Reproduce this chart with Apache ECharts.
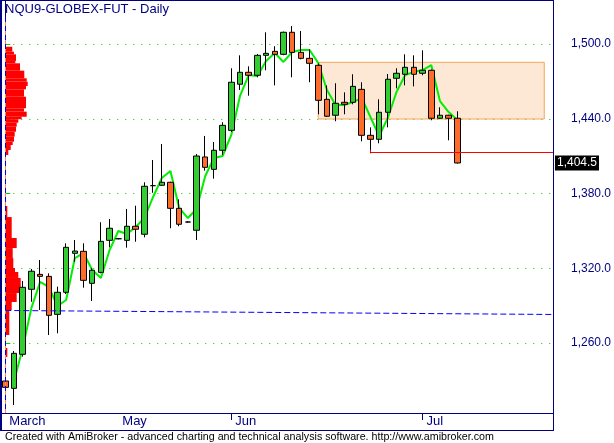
<!DOCTYPE html>
<html><head><meta charset="utf-8">
<script src="https://cdn.jsdelivr.net/npm/echarts@6/dist/echarts.min.js"></script>
<style>html,body{margin:0;padding:0;background:#fff}#c{width:614px;height:443px}</style>
</head><body><div id="c"></div>
<script>
// ---- DATA ----
const categories = ['0','1','2','3','4','5','6','7','8','9','10','11','12','13','14','15','16','17','18','19','20','21','22','23','24','25','26','27','28','29','30','31','32','33','34','35','36','37','38','39','40','41','42','43','44','45','46','47','48','49','50','51','52','53','54','55','56','57','58','59','60','61','62','63'];
const monthLabels = ['March','May','Jun','Jul'];
const monthIdx = [0,13,26,48];
const tickMonthIdx = [26,48];
const yTicks = [1260,1320,1380,1440,1500];

const open  = [1229.5,1223.6,1250.9,1303.1,1315.1,1313.5,1283.0,1300.7,1332.0,1333.6,1307.9,1316.7,1342.4,1343.7,1342.4,1353.7,1347.3,1386.3,1386.6,1389.0,1368.1,1357.1,1350.5,1409.3,1399.4,1414.7,1430.7,1467.7,1477.3,1474.9,1490.9,1494.1,1491.7,1509.4,1493.3,1488.5,1482.9,1455.6,1442.8,1453.2,1453.2,1463.6,1426.7,1423.5,1445.2,1472.5,1475.7,1481.3,1476.5,1478.9,1440.4,1442.8,1440.4];
const close = [1224.4,1251.7,1304.7,1317.6,1313.5,1282.2,1300.7,1336.8,1333.8,1310.3,1318.4,1341.6,1352.1,1343.7,1353.7,1351.3,1385.8,1386.3,1389.0,1368.1,1355.3,1357.1,1410.1,1401.0,1414.7,1434.7,1469.3,1477.3,1474.9,1490.9,1492.5,1491.7,1509.4,1493.3,1488.5,1484.5,1454.8,1442.0,1452.4,1451.6,1466.0,1426.7,1423.5,1445.2,1471.7,1476.5,1481.3,1475.7,1478.9,1440.4,1442.8,1440.4,1404.5];
const low   = [1223.5,1210.2,1249.0,1293.1,1286.5,1266.4,1267.8,1299.3,1325.3,1304.4,1293.7,1315.9,1336.8,1343.2,1336.5,1341.3,1344.8,1380.6,1386.3,1352.1,1353.7,1356.6,1342.7,1398.3,1391.9,1410.9,1429.4,1463.1,1458.5,1473.3,1478.9,1466.8,1491.0,1473.3,1487.7,1469.3,1443.6,1441.4,1438.0,1443.6,1451.6,1421.9,1412.3,1420.3,1433.1,1464.4,1466.8,1466.0,1474.9,1438.8,1440.0,1422.7,1404.0];
const high  = [1230.5,1253.6,1309.8,1319.4,1326.6,1315.9,1305.2,1340.0,1342.7,1340.0,1320.0,1356.9,1359.5,1344.2,1367.6,1370.2,1389.0,1406.9,1419.7,1389.5,1375.3,1357.6,1411.7,1426.2,1421.3,1437.2,1480.5,1490.9,1482.1,1492.0,1509.4,1498.2,1510.0,1514.4,1510.4,1495.7,1484.3,1466.8,1468.5,1461.2,1475.7,1469.3,1433.1,1455.6,1475.9,1480.5,1491.7,1490.9,1494.9,1479.5,1449.2,1443.2,1446.0];
const avgLine = ['-',1229,1256,1288,1309.0,1305.0,1289.7,1294.5,1328.2,1332.2,1318.6,1312.2,1334.6,1349.9,1347.5,1353.1,1360.3,1377.2,1392.4,1398.1,1368.4,1360.3,1367.6,1394.0,1408.5,1410.1,1427.0,1458.3,1475.1,1474.3,1486.4,1492.8,1485.6,1493.6,1495.2,1495.2,1484.7,1463.1,1451.0,1451.0,1453.4,1456.7,1441.4,1426.2,1440.6,1461.5,1475.1,1477.5,1479.1,1483.1,1454.2,1445.4,1439.0];

// volume-at-price profile (price bin top, bin bottom, volume)
const profileTop    = [1497.8,1493.8,1491.7,1486.4,1484.5,1478.6,1472.5,1469.8,1466.3,1463.6,1457.7,1448.4,1445.7,1441.6,1439.6,1436.8,1433.6,1429.6,1425.6,1421.6,1418.9,1414.9, 1370.0,1361.1,1344.3,1336.2,1328.2,1320.2,1317.0,1312.2,1300.1,1292.9,1286.5,1256.0];
const profileBottom = [1493.8,1491.7,1486.4,1484.5,1478.6,1472.5,1469.8,1466.3,1463.6,1457.7,1448.4,1445.7,1441.6,1439.6,1436.8,1433.6,1429.6,1425.6,1421.6,1418.9,1414.9,1410.9, 1361.1,1344.3,1336.2,1328.2,1320.2,1317.0,1312.2,1300.1,1292.9,1286.5,1266.4,1248.8];
const profileVol    = [7,8.7,10.7,10,14.7,19,21.4,22.4,20.7,18.7,20.7,18.7,21.4,16.4,13,11.4,10.7,9.4,8.7,7.4,5.4,3, 2,6.4,11.4,7.4,8,9.7,13,15.4,11.4,6.4,4,2];

// annotations
const rangeBox = {startIdx:36, endIdx:62, top:1485.3, bottom:1439.8};
const trendLine = {startIdx:0, endIdx:63, start:1286.1, end:1282.9};
const supportLine = {startIdx:42, endIdx:63, level:1413.0};
const markerIdx = 0, markerTop = 1521.7;
const yMin = 1203.81, yMax = 1535.32;

// ---- CHART ----
const FONT = '"Liberation Sans", Arial, sans-serif';
const NAVY = '#000080';
function fmt(v){ const s=v.toFixed(1); const p=s.split('.'); return p[0].replace(/\B(?=(\d{3})+(?!\d))/g, ',')+'.'+p[1]; }

const candleData = open.map((o,i)=>[o, close[i], low[i], high[i]]);
const profileData = profileVol.map((v,i)=>[v, profileTop[i], profileBottom[i]]);
const lastClose = close[close.length-1];

const chart = echarts.init(document.getElementById('c'));
chart.setOption({
  animation:false,
  backgroundColor:'#ffffff',
  grid:{left:5.3, right:61, top:0, bottom:30},
  xAxis:[{
    type:'category', data:categories, boundaryGap:false,
    axisLine:{show:false},
    axisTick:{show:true, length:7, lineStyle:{color:NAVY, width:1}, interval:(i)=>tickMonthIdx.indexOf(i)>=0},
    axisLabel:{show:true, interval:(i)=>monthIdx.indexOf(i)>=0,
      formatter:(v)=>monthLabels[monthIdx.indexOf(Number(v))] || '',
      align:'left', padding:[0,0,0,4], margin:2, color:NAVY, fontSize:13, fontFamily:FONT},
    splitLine:{show:false}
  },{type:'value', min:0, max:547.7, show:false}],
  yAxis:{type:'value', position:'right', min:yMin, max:yMax,
    axisLine:{show:true, lineStyle:{color:NAVY, width:1}},
    axisTick:{show:true, inside:false, length:5, lineStyle:{color:'#00cc00', width:1}, customValues:yTicks},
    axisLabel:{customValues:yTicks, formatter:(v)=>fmt(v), color:NAVY, fontSize:12, fontFamily:FONT, margin:18},
    splitLine:{show:true, lineStyle:{color:'#00cc00', type:[1,7], width:1}}
  },
  series:[
    {type:'line', data:[], z:0, silent:true,
      markArea:{silent:true, itemStyle:{color:'#fde8d5', borderColor:'#f7a55a', borderWidth:1},
        data:[[{coord:[rangeBox.startIdx, rangeBox.top]},{coord:[rangeBox.endIdx, rangeBox.bottom]}]]}},
    {type:'custom', xAxisIndex:1, yAxisIndex:0, z:1, silent:true, clip:false, data:profileData,
      renderItem:(params, api)=>{
        const a = api.coord([0, api.value(1)]);
        const b = api.coord([api.value(0), api.value(2)]);
        return {type:'rect', shape:{x:a[0], y:a[1], width:b[0]-a[0], height:b[1]-a[1]}, style:{fill:'#ff0000'}};
      }},
    {type:'line', data:avgLine, z:2, symbol:'none', silent:true, lineStyle:{color:'#00ee00', width:2}},
    {type:'candlestick', data:candleData, z:3, barWidth:6, clip:false, silent:true,
      itemStyle:{color:'#33cc33', color0:'#ff6b2b', borderColor:'#000', borderColor0:'#000', borderWidth:1}},
    {type:'line', data:[], z:5, silent:true,
      markLine:{silent:true, symbol:['none','none'], animation:false,
        label:{show:false},
        data:[
          [{coord:[markerIdx, markerTop], lineStyle:{color:'#ff8c3a', width:1, type:'solid'}},{coord:[markerIdx, yMin]}],
          [{coord:[markerIdx, markerTop], lineStyle:{color:'#0000ff', width:1, type:[5,4]}},{coord:[markerIdx, yMin]}],
          [{coord:[trendLine.startIdx, trendLine.start], lineStyle:{color:'#0000ff', width:1, type:[6,3]}},{coord:[trendLine.endIdx, trendLine.end]}],
          [{coord:[supportLine.startIdx, supportLine.level], lineStyle:{color:'#ff0000', width:1, type:'solid'}},{coord:[supportLine.endIdx, supportLine.level]}],
          [{coord:[supportLine.startIdx, supportLine.level+2], lineStyle:{color:'#ff0000', width:1, type:'solid'}},{coord:[supportLine.startIdx, supportLine.level]}]
        ]}},
    {type:'line', data:[], z:6, silent:true,
      markLine:{silent:true, symbol:['none','none'], animation:false,
        lineStyle:{color:'rgba(0,0,0,0)', width:1, type:'solid'},
        label:{show:true, position:'end', distance:2, formatter:()=>fmt(lastClose), color:'#fff', backgroundColor:'#000', padding:[2,2,1,2], fontSize:12, fontFamily:FONT},
        data:[ {yAxis:lastClose} ]}}
  ],
  graphic:[
    {type:'rect', silent:true, shape:{x:0, y:0, width:2, height:431}, style:{fill:NAVY}},
    {type:'line', silent:true, shape:{x1:0, y1:0.5, x2:554, y2:0.5}, style:{stroke:NAVY, lineWidth:1}},
    {type:'line', silent:true, shape:{x1:553.5, y1:0, x2:553.5, y2:431}, style:{stroke:NAVY, lineWidth:1}},
    {type:'line', silent:true, shape:{x1:0, y1:413.5, x2:554, y2:413.5}, style:{stroke:NAVY, lineWidth:1}},
    {type:'line', silent:true, shape:{x1:0, y1:430.5, x2:554, y2:430.5}, style:{stroke:NAVY, lineWidth:1}},
    {type:'text', silent:true, x:5, y:9, style:{text:'NQU9-GLOBEX-FUT - Daily', fill:NAVY, fontSize:13, fontFamily:FONT, verticalAlign:'middle'}},
    {type:'text', silent:true, x:5, y:437, style:{text:'Created with AmiBroker - advanced charting and technical analysis software. http://www.amibroker.com', fill:'#000', fontSize:10.7, fontFamily:FONT, verticalAlign:'middle'}}
  ]
});
</script></body></html>
